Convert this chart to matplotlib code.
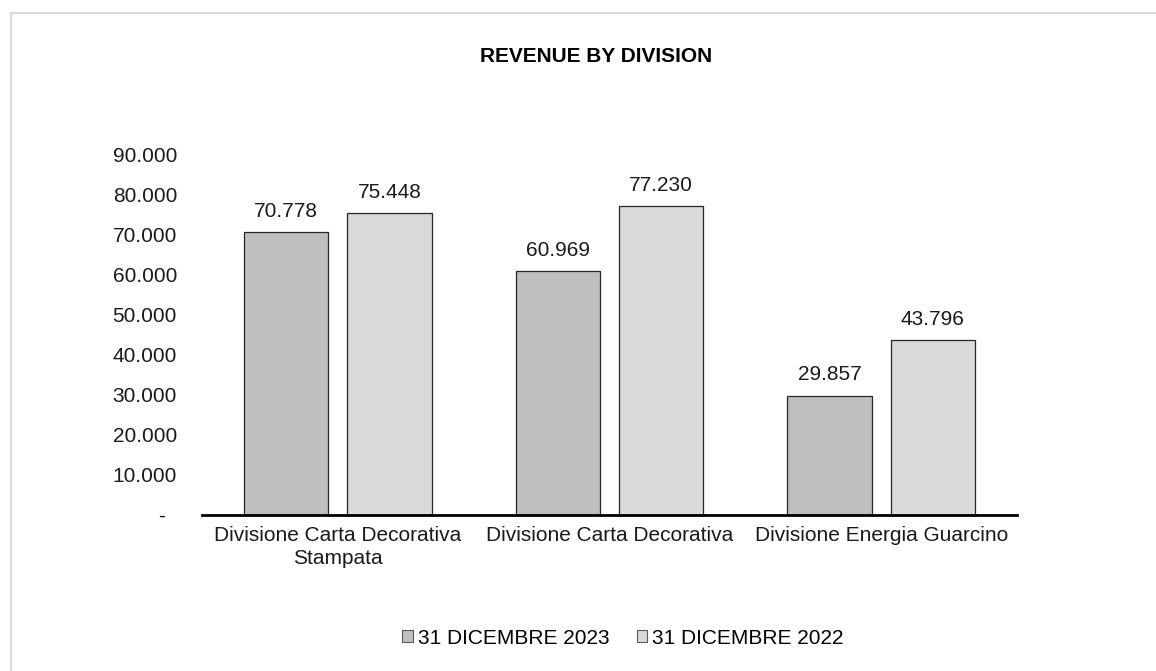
import matplotlib

matplotlib.use("Agg")
import matplotlib.pyplot as plt  # noqa: E402
import numpy as np  # noqa: E402
from matplotlib.patches import Rectangle  # noqa: E402
from matplotlib.ticker import FuncFormatter  # noqa: E402

plt.rcParams["font.family"] = ["Liberation Sans", "DejaVu Sans"]

divisions = ["Divisione Carta Decorativa\nStampata",
             "Divisione Carta Decorativa",
             "Divisione Energia Guarcino"]
series_names = ["31 DICEMBRE 2023", "31 DICEMBRE 2022"]
rev_2023 = [70778, 60969, 29857]
rev_2022 = [75448, 77230, 43796]
y_ticks = [0, 10000, 20000, 30000, 40000, 50000, 60000, 70000, 80000, 90000]


def it_thousands(v, _pos=None):
    """Italian accounting style: dot as thousands separator, dash for zero."""
    if v == 0:
        return "-  "
    return f"{v:,.0f}".replace(",", ".")


fig = plt.figure(figsize=(11.56, 6.71), dpi=100, facecolor="white")
# light frame round the whole chart area
fig.add_artist(Rectangle((10.5 / 1156, -0.05), 1.2, (671 - 12.5) / 671 + 0.05,
                         transform=fig.transFigure, fill=False,
                         edgecolor="#d9d9d9", linewidth=1.5))

ax = fig.add_axes([202 / 1156, (671 - 515) / 671, 815 / 1156, 360 / 671])

x = np.arange(len(divisions))
w = 0.31
off = 0.19
b1 = ax.bar(x - off, rev_2023, w, color="#bfbfbf", edgecolor="#262626",
            linewidth=0.9, label=series_names[0])
b2 = ax.bar(x + off, rev_2022, w, color="#d9d9d9", edgecolor="#262626",
            linewidth=0.9, label=series_names[1])

for bars in (b1, b2):
    for r in bars:
        ax.annotate(it_thousands(r.get_height()),
                    (r.get_x() + r.get_width() / 2, r.get_height()),
                    xytext=(0, 8), textcoords="offset points",
                    ha="center", va="bottom", fontsize=15, color="#1a1a1a")

ax.set_xlim(-0.5, 2.5)
ax.set_ylim(0, 90000)
ax.set_yticks(y_ticks)
ax.yaxis.set_major_formatter(FuncFormatter(it_thousands))
ax.set_xticks(x)
ax.set_xticklabels(divisions, fontsize=15, color="#1a1a1a", linespacing=1.25)
ax.tick_params(axis="y", length=0, pad=18, labelsize=15, labelcolor="#1a1a1a")
ax.tick_params(axis="x", length=0, pad=8)
for s in ("top", "right", "left"):
    ax.spines[s].set_visible(False)
ax.spines["bottom"].set_linewidth(2)
ax.spines["bottom"].set_color("black")

fig.text(596 / 1156, 1 - 57 / 671, "REVENUE BY DIVISION", ha="center",
         va="center", fontsize=15, fontweight="bold")

leg = fig.legend(handles=[b1, b2], loc="center",
                 bbox_to_anchor=(623 / 1156, 1 - 638 / 671),
                 ncol=2, frameon=False, fontsize=15, handlelength=0.5,
                 handleheight=0.5, handletextpad=0.25, columnspacing=1.3)
for h in leg.legend_handles:
    h.set_edgecolor("#595959")
    h.set_linewidth(0.8)

fig.savefig("out.png", dpi=100, facecolor="white")
